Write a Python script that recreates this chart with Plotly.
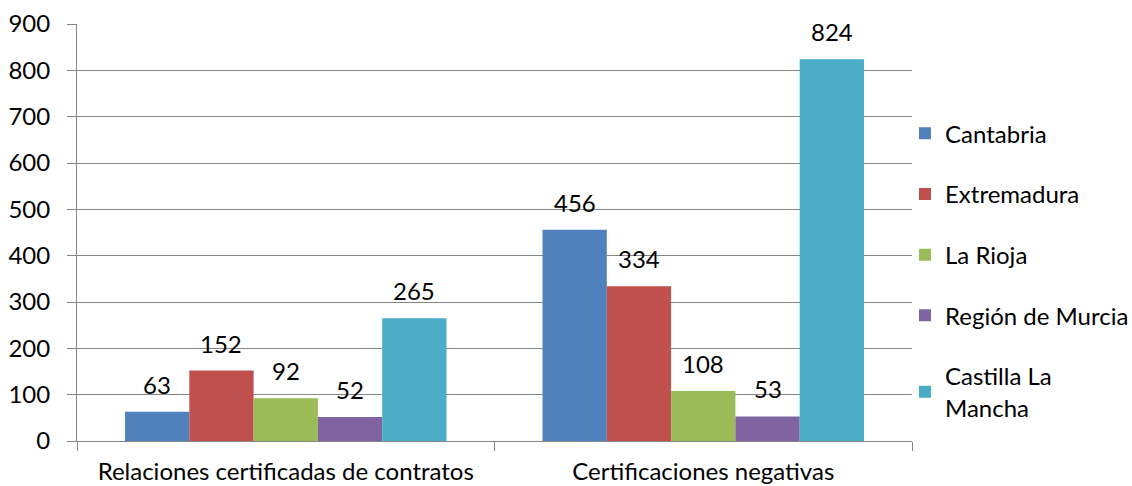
import plotly.graph_objects as go

categories = ["Relaciones certificadas de contratos", "Certificaciones negativas"]
series_names = ["Cantabria", "Extremadura", "La Rioja", "Región de Murcia", "Castilla La<br>Mancha"]
cantabria = [63, 456]
extremadura = [152, 334]
la_rioja = [92, 108]
murcia = [52, 53]
castilla = [265, 824]
colors = ["#4F81BD", "#C0504D", "#9BBB59", "#8064A2", "#4BACC6"]

values = [cantabria, extremadura, la_rioja, murcia, castilla]
FONT = "Lato, 'Open Sans', sans-serif"
FS = 24
bargap = 0.23
n = len(values)
bw = (1 - bargap) / n

fig = go.Figure()
annotations = []
for i, (name, vals, col) in enumerate(zip(series_names, values, colors)):
    fig.add_trace(go.Bar(
        x=categories, y=vals, name=name, marker=dict(color=col, line=dict(width=0)),
        legendgroup=str(i),
    ))
    for j, v in enumerate(vals):
        annotations.append(dict(
            x=j + (i - (n - 1) / 2) * bw, y=v, xref="x", yref="y",
            text=str(v), showarrow=False, yanchor="bottom", yshift=11,
            font=dict(size=FS, color="black", family=FONT),
        ))

fig.update_layout(
    width=1132, height=486,
    margin=dict(l=77, r=220, t=24, b=45, autoexpand=False),
    paper_bgcolor="white", plot_bgcolor="white",
    barmode="group", bargap=bargap, bargroupgap=0,
    font=dict(family=FONT, size=FS, color="black"),
    annotations=annotations,
    legend=dict(
        x=0.9916, xanchor="left", y=0.791, yanchor="top",
        font=dict(size=FS, family=FONT, color="black"),
        tracegroupgap=26.5, itemwidth=30, bgcolor="rgba(0,0,0,0)",
    ),
    xaxis=dict(
        type="category", tickson="boundaries", ticks="outside", ticklen=9,
        tickcolor="#868686", showline=True, linecolor="#868686", linewidth=1,
        showgrid=False, tickfont=dict(size=FS, family=FONT, color="black"),
        ticklabelstandoff=9, automargin=False,
    ),
    yaxis=dict(
        range=[0, 900], dtick=100, ticks="outside", ticklen=9,
        tickcolor="#868686", showline=True, linecolor="#868686", linewidth=1,
        showgrid=True, gridcolor="#868686", gridwidth=1, zeroline=False,
        tickfont=dict(size=FS, family=FONT, color="black"),
        ticklabelstandoff=12, automargin=False,
    ),
)

fig.write_html(
    "out.html",
    config={"displayModeBar": False},
    post_script="document.body.style.margin='0';document.body.style.padding='0';document.documentElement.style.overflow='hidden';",
)
